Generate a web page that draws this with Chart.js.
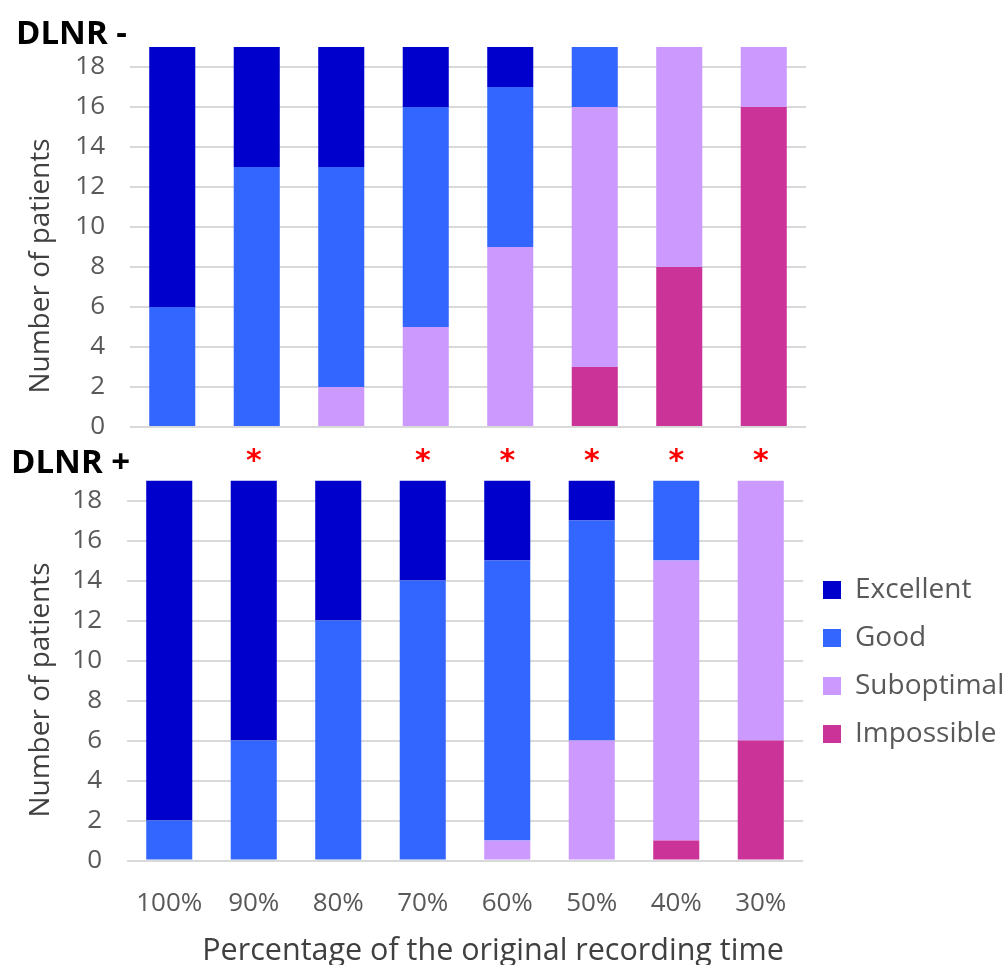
<!DOCTYPE html>
<html lang="en">
<head>
    <meta charset="UTF-8">
    <title>DLNR - / DLNR +</title>
    <script src="https://cdn.jsdelivr.net/npm/chart.js@4.4.1/dist/chart.umd.min.js"></script>
    <style>
        body {
            margin: 0;
            background: #ffffff;
            width: 1005px;
            height: 965px;
            overflow: hidden;
            position: relative;
        }

        #topWrap, #bottomWrap {
            position: absolute;
            left: 0;
            width: 1005px;
        }

        #topWrap { top: 0; height: 480px; }
        #bottomWrap { top: 440px; height: 525px; }
    </style>
</head>
<body>
    <div id="topWrap"><canvas id="topChart" width="1005" height="480"></canvas></div>
    <div id="bottomWrap"><canvas id="bottomChart" width="1005" height="525"></canvas></div>

    <script>
        'use strict';

        const categories = ['100%', '90%', '80%', '70%', '60%', '50%', '40%', '30%'];

        // DLNR - (top panel)
        const minusExcellent  = [13, 6, 6, 3, 2, 0, 0, 0];
        const minusGood       = [6, 13, 11, 11, 8, 3, 0, 0];
        const minusSuboptimal = [0, 0, 2, 5, 9, 13, 11, 3];
        const minusImpossible = [0, 0, 0, 0, 0, 3, 8, 16];

        // DLNR + (bottom panel)
        const plusExcellent  = [17, 13, 7, 5, 4, 2, 0, 0];
        const plusGood       = [2, 6, 12, 14, 14, 11, 4, 0];
        const plusSuboptimal = [0, 0, 0, 0, 1, 6, 14, 13];
        const plusImpossible = [0, 0, 0, 0, 0, 0, 1, 6];

        // red asterisks above the DLNR + bars
        const significant = [false, true, false, true, true, true, true, true];

        const yMax = 19;
        const yStep = 2;

        const colors = {
            Excellent: '#0000CC',
            Good: '#3366FF',
            Suboptimal: '#CC99FF',
            Impossible: '#CC3399'
        };

        Chart.defaults.font.family = "'Open Sans', sans-serif";
        Chart.defaults.animation = false;

        // extra free text: panel labels and axis titles
        const textPlugin = {
            id: 'panelText',
            afterDraw(chart, args, opts) {
                const ctx = chart.ctx;
                (opts.items || []).forEach(t => {
                    ctx.save();
                    ctx.font = t.font;
                    ctx.fillStyle = t.color;
                    ctx.textAlign = t.align || 'left';
                    ctx.textBaseline = t.baseline || 'alphabetic';
                    ctx.translate(t.x, t.y);
                    if (t.rotate) ctx.rotate(t.rotate);
                    ctx.fillText(t.text, 0, 0);
                    ctx.restore();
                });
            }
        };

        // asterisks placed over each significant category
        const starPlugin = {
            id: 'stars',
            afterDatasetsDraw(chart) {
                const ctx = chart.ctx;
                const xs = chart.scales.x;
                const top = chart.chartArea.top;
                ctx.save();
                ctx.font = 'bold 30px "DejaVu Sans"';
                ctx.fillStyle = '#FF0000';
                ctx.textAlign = 'center';
                ctx.textBaseline = 'alphabetic';
                significant.forEach((s, i) => {
                    if (s) ctx.fillText('*', xs.getPixelForValue(i), top - 11);
                });
                ctx.restore();
            }
        };

        function makeDatasets(imp, sub, good, exc) {
            const bar = { barPercentage: 0.545, categoryPercentage: 1.0, borderWidth: 0 };
            return [
                { label: 'Impossible', data: imp, backgroundColor: colors.Impossible, ...bar },
                { label: 'Suboptimal', data: sub, backgroundColor: colors.Suboptimal, ...bar },
                { label: 'Good', data: good, backgroundColor: colors.Good, ...bar },
                { label: 'Excellent', data: exc, backgroundColor: colors.Excellent, ...bar }
            ];
        }

        function yScale(axisWidth) {
            return {
                stacked: true,
                min: 0,
                max: yMax,
                afterFit: s => { s.width = axisWidth; },
                border: { display: false },
                grid: { color: '#D9D9D9', lineWidth: 2, drawTicks: false },
                ticks: {
                    stepSize: yStep,
                    includeBounds: false,
                    padding: 25,
                    color: '#595959',
                    font: { size: 26 }
                }
            };
        }

        const axisTitleFont = "28px 'Open Sans', sans-serif";
        const xTitleFont = "30.5px 'Open Sans', sans-serif";
        const panelFont = "bold 33px 'Open Sans', sans-serif";

        // top panel
        new Chart(document.getElementById('topChart'), {
            type: 'bar',
            data: {
                labels: categories,
                datasets: makeDatasets(minusImpossible, minusSuboptimal, minusGood, minusExcellent)
            },
            plugins: [textPlugin],
            options: {
                responsive: false,
                layout: { padding: { top: 47, bottom: 0, left: 0, right: 199 } },
                scales: {
                    x: {
                        stacked: true,
                        afterFit: s => { s.height = 53; },
                        border: { display: false },
                        grid: { display: false, drawTicks: false },
                        ticks: { display: false }
                    },
                    y: yScale(130)
                },
                plugins: {
                    legend: { display: false },
                    tooltip: { enabled: false },
                    panelText: {
                        items: [
                            { text: 'DLNR -', x: 16, y: 44, font: panelFont, color: '#000000' },
                            { text: 'Number of patients', x: 41, y: 266, rotate: -Math.PI / 2, align: 'center', baseline: 'middle', font: axisTitleFont, color: '#404040' }
                        ]
                    }
                }
            }
        });

        // bottom panel
        new Chart(document.getElementById('bottomChart'), {
            type: 'bar',
            data: {
                labels: categories,
                datasets: makeDatasets(plusImpossible, plusSuboptimal, plusGood, plusExcellent)
            },
            plugins: [textPlugin, starPlugin],
            options: {
                responsive: false,
                layout: { padding: { top: 40.5, bottom: 0, left: 0, right: 0 } },
                scales: {
                    x: {
                        stacked: true,
                        afterFit: s => { s.height = 104.5; },
                        border: { display: false },
                        grid: { display: false, drawTicks: false },
                        ticks: { padding: 27, color: '#595959', font: { size: 26 } }
                    },
                    y: yScale(127)
                },
                plugins: {
                    legend: {
                        position: 'right',
                        fullSize: false,
                        reverse: true,
                        maxWidth: 202,
                        align: 'start',
                        // empty title used only as a spacer above the items
                        title: { display: true, text: ' ', font: { size: 10 }, padding: { top: 63.5, bottom: 0 } },
                        labels: {
                            boxWidth: 18,
                            boxHeight: 18,
                            padding: 20,
                            color: '#595959',
                            font: { size: 28 }
                        }
                    },
                    tooltip: { enabled: false },
                    panelText: {
                        items: [
                            { text: 'DLNR +', x: 11, y: 33, font: panelFont, color: '#000000' },
                            { text: 'Number of patients', x: 41, y: 250, rotate: -Math.PI / 2, align: 'center', baseline: 'middle', font: axisTitleFont, color: '#404040' },
                            { text: 'Percentage of the original recording time', x: 493, y: 520, align: 'center', font: xTitleFont, color: '#404040' }
                        ]
                    }
                }
            }
        });
    </script>
</body>
</html>
